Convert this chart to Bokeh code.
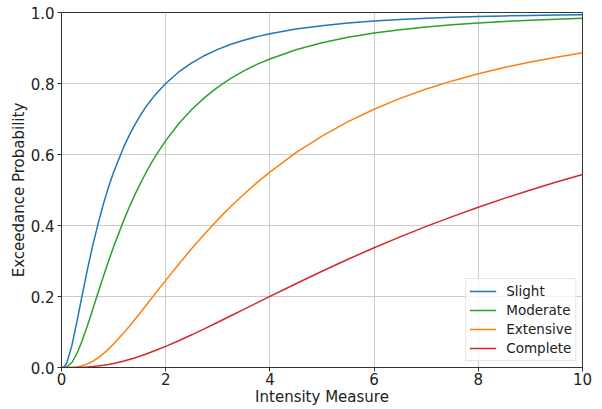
from bokeh.plotting import figure
from bokeh.models import Range1d, FixedTicker, Legend, LegendItem, NumeralTickFormatter
from bokeh.embed import file_html
from bokeh.resources import INLINE

# Intensity measure sample points
im = [0, 0.05, 0.1, 0.2, 0.3, 0.4, 0.5, 0.6, 0.7, 0.8, 0.9,
      1.0, 1.2, 1.3, 1.4, 1.5, 1.6, 1.7, 1.8,
      2.0, 2.25, 2.5, 2.75, 3.0, 3.25, 3.5, 3.75, 4.0,
      4.5, 5.0, 5.5, 6.0, 6.5, 7.0, 7.5, 8.0, 8.5, 9.0, 9.5, 10.0]

slight = [0, .0015, .0121, .0623, .1318, .206, .2776, .344, .404, .4585, .507,
          .550, .623, .654, .682, .707, .730, .750, .768,
          .800, .8325, .858, .879, .896, .9105, .922, .932, .940,
          .9535, .963, .9704, .976, .9803, .9837, .9864, .9885, .9903, .9917, .9929, .9939]
moderate = [0, .0001, .0015, .0141, .0404, .0768, .119, .164, .2096, .255, .2987,
            .340, .4165, .4515, .484, .5146, .543, .570, .5946,
            .639, .6866, .7267, .761, .7897, .8143, .8355, .8538, .869,
            .895, .9148, .930, .9422, .9517, .9594, .9656, .9707, .9749, .9784, .9813, .9838]
extensive = [0, 0, 0, .0003, .0017, .0049, .0101, .0176, .027, .0385, .0517,
             .0662, .0984, .1157, .1336, .152, .1706, .1894, .2082,
             .2454, .291, .335, .377, .4165, .4535, .488, .5207, .5505,
             .605, .6517, .6925, .7275, .758, .7844, .8073, .8272, .845, .8604, .874, .8863]
complete = [0, 0, 0, .00004, .0002, .0006, .0014, .0025, .004, .0061, .0085,
            .0114, .0183, .0224, .0268, .0316, .0367, .0421, .0477,
            .0595, .0754, .0921, .1096, .1275, .1457, .1638, .1822, .2002,
            .236, .271, .305, .3372, .368, .3974, .425, .4514, .4765, .5, .5223, .5438]

series_names = ["Slight", "Moderate", "Extensive", "Complete"]
series_values = [slight, moderate, extensive, complete]
colors = ["#1f77b4", "#2ca02c", "#ff7f0e", "#d62728"]

x_ticks = [0, 2, 4, 6, 8, 10]
y_ticks = [0.0, 0.2, 0.4, 0.6, 0.8, 1.0]

FONT = "DejaVu Sans"

p = figure(width=600, height=409, output_backend="svg", toolbar_location=None,
           x_range=Range1d(0, 10), y_range=Range1d(0, 1),
           min_border_left=61, min_border_right=18, min_border_top=12, min_border_bottom=42)

items = []
for name, vals, c in zip(series_names, series_values, colors):
    r = p.line(im, vals, line_color=c, line_width=1.5)
    items.append(LegendItem(label=name, renderers=[r]))

p.xaxis.ticker = FixedTicker(ticks=x_ticks)
p.yaxis.ticker = FixedTicker(ticks=y_ticks)
p.yaxis.formatter = NumeralTickFormatter(format="0.0")
p.xaxis.axis_label = "Intensity Measure"
p.yaxis.axis_label = "Exceedance Probability"

for ax in (p.xaxis, p.yaxis):
    ax.axis_label_text_font = FONT
    ax.axis_label_text_font_size = "15px"
    ax.axis_label_text_font_style = "normal"
    ax.axis_label_text_color = "#222222"
    ax.major_label_text_font = FONT
    ax.major_label_text_font_size = "15px"
    ax.major_label_text_color = "#222222"
    ax.minor_tick_line_color = None
    ax.major_tick_out = 4
    ax.major_tick_in = 0
    ax.axis_line_color = "#333333"
    ax.major_tick_line_color = "#333333"

p.xaxis.axis_label_standoff = 0
p.xaxis.major_label_standoff = 1
p.yaxis.axis_label_standoff = 0
p.yaxis.major_label_standoff = 3

p.outline_line_color = "#333333"
p.outline_line_alpha = 1.0
p.xgrid.grid_line_color = "#cccccc"
p.ygrid.grid_line_color = "#cccccc"
p.xgrid.grid_line_width = 1
p.ygrid.grid_line_width = 1
p.background_fill_color = "white"
p.border_fill_color = "white"

legend = Legend(items=items, location="bottom_right")
legend.label_text_font = FONT
legend.label_text_font_size = "13.5px"
legend.label_text_color = "#222222"
legend.border_line_color = "#cccccc"
legend.border_line_width = 1
legend.background_fill_alpha = 0.8
legend.glyph_width = 27
legend.glyph_height = 18
legend.label_height = 18
legend.spacing = 1
legend.padding = 3
legend.margin = 6
legend.label_standoff = 10
p.add_layout(legend)

open("out.html", "w").write(file_html(p, INLINE))
